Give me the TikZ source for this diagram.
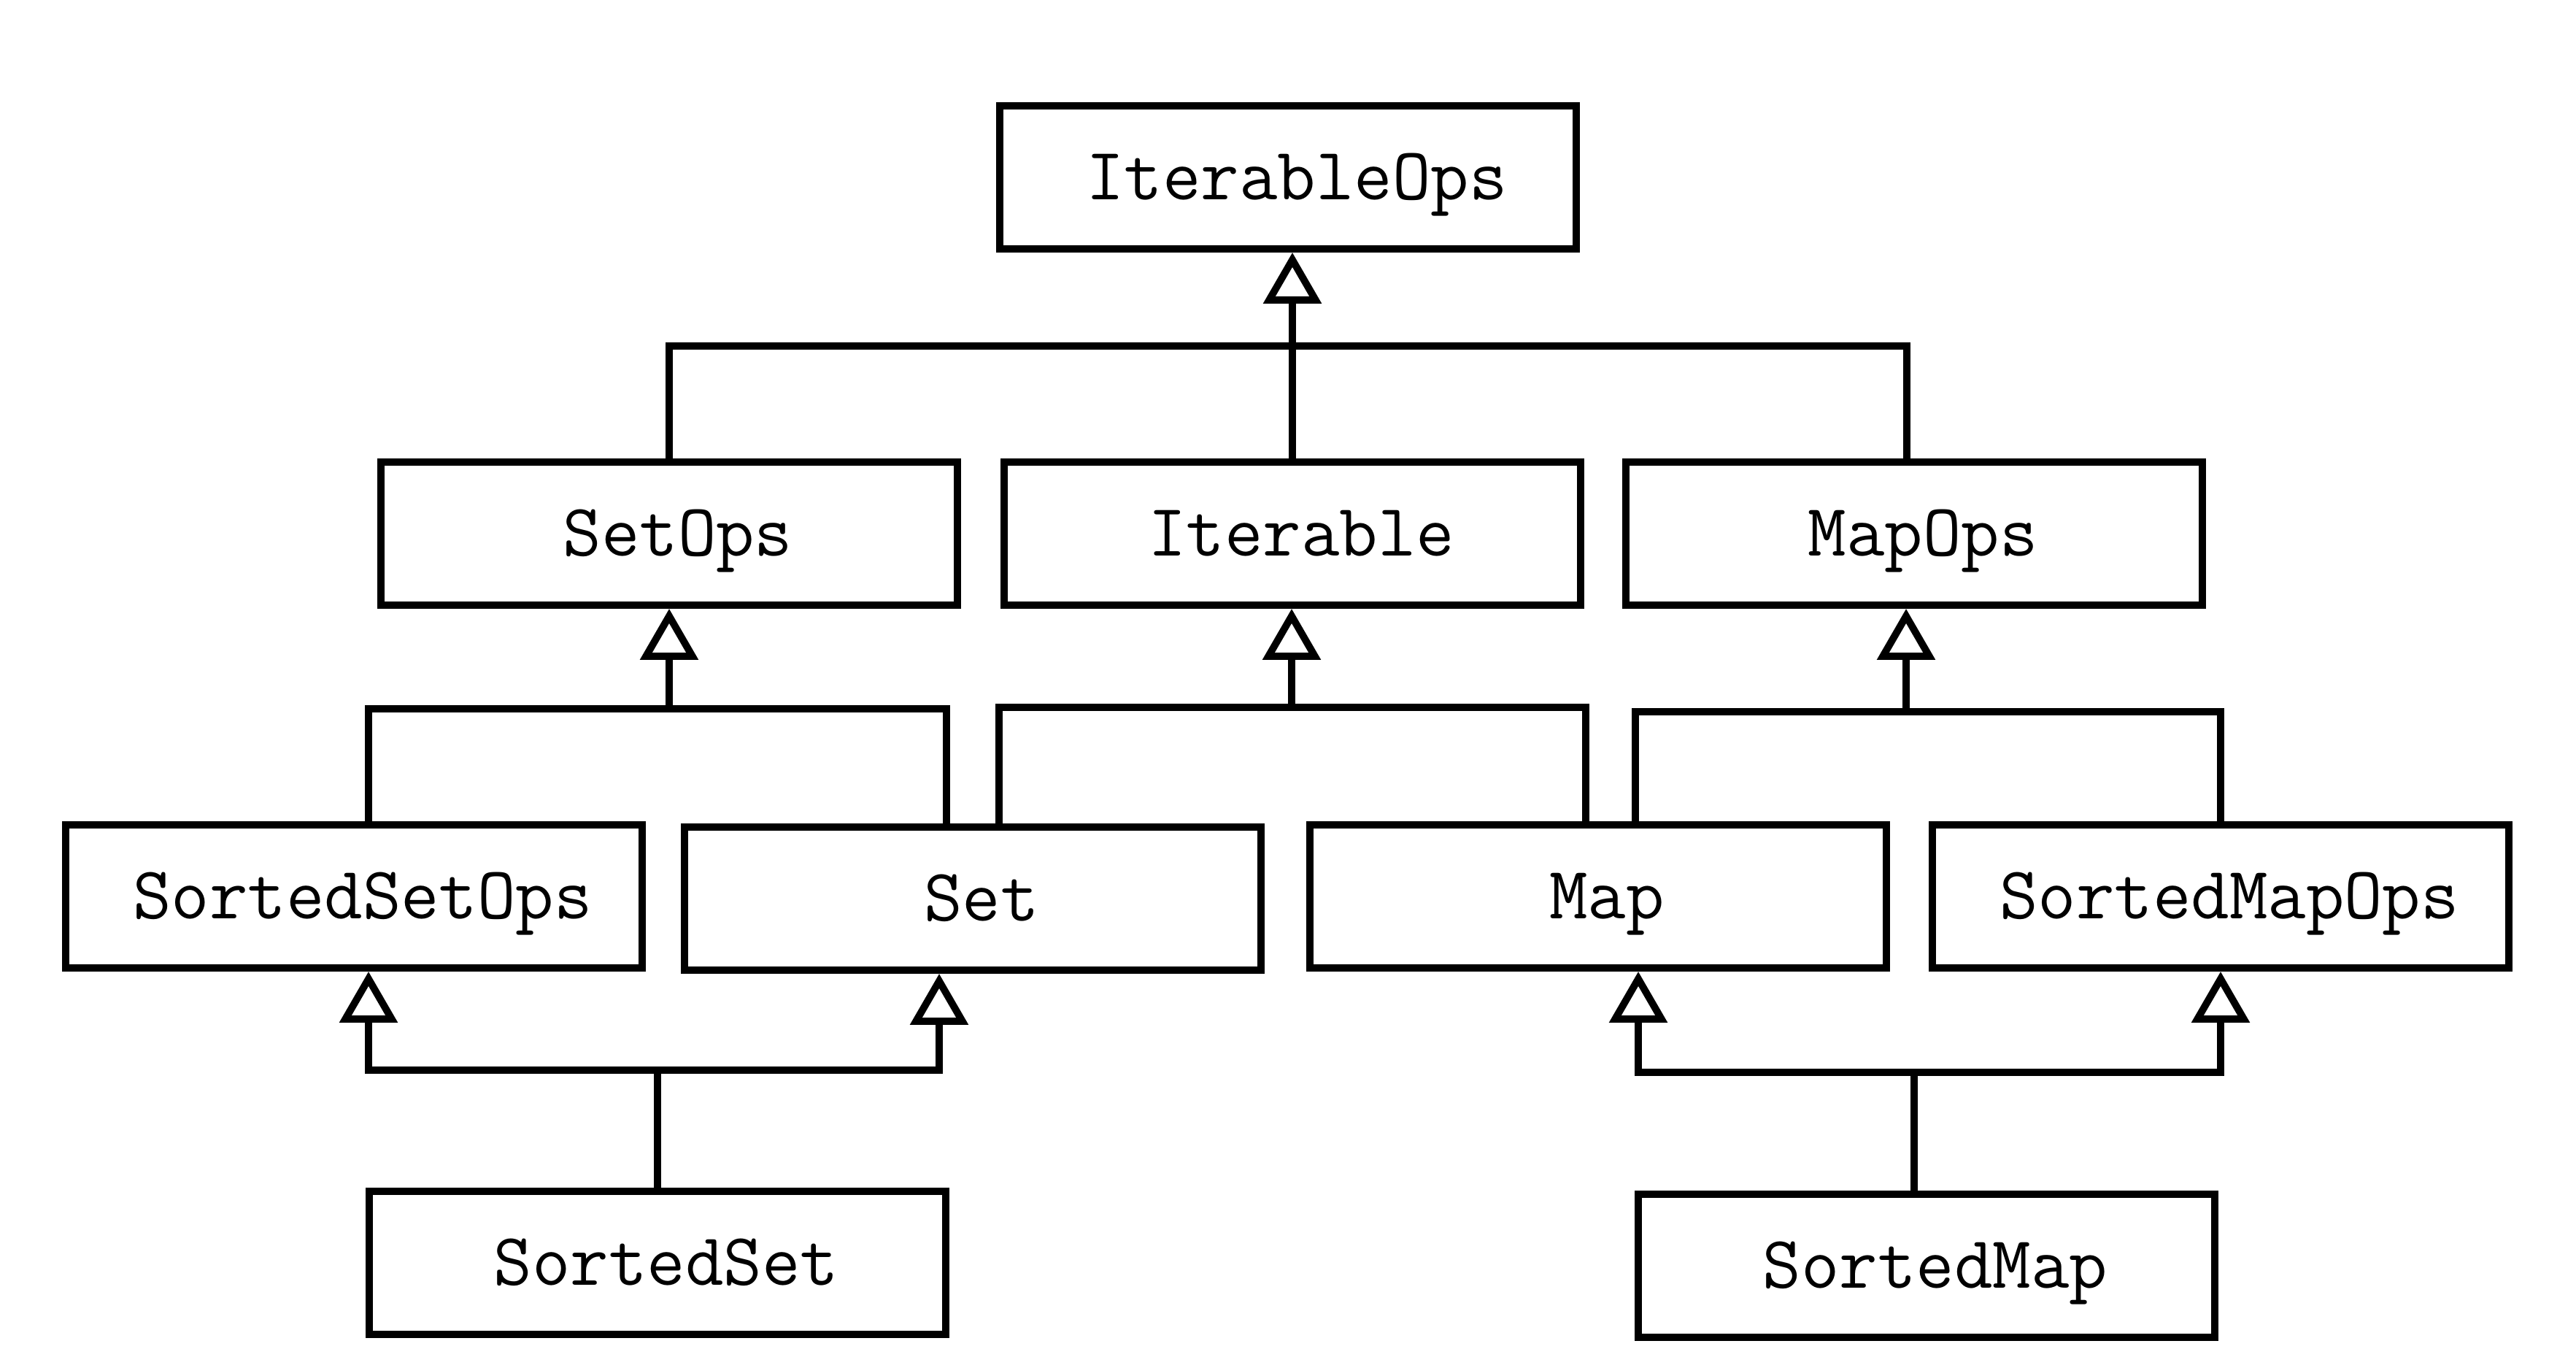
\documentclass[tikz,border=0pt]{standalone}
\usepackage{fontspec}
\usetikzlibrary{arrows.meta}
\begin{document}
\begin{tikzpicture}[font=\ttfamily\fontsize{29}{35}\selectfont, line join=miter, line width=2.8pt,
		>={Triangle[open,length=7mm,width=7.8mm,line width=2.8pt]}]
	\tikzset{cls/.style={draw, minimum width=7.9cm, minimum height=1.96cm, inner sep=0pt, text height=17.5pt, text depth=0pt,
			execute at begin node={\hspace*{2.4mm}}}}
	\useasboundingbox (0,0) rectangle (35.30,-18.48);
	% classes
	\node[cls] (IterableOps)  at (17.65,-2.43)  {IterableOps};
	\node[cls] (SetOps)       at (9.17,-7.31)   {SetOps};
	\node[cls] (Iterable)     at (17.71,-7.31)  {Iterable};
	\node[cls] (MapOps)       at (26.23,-7.31)  {MapOps};
	\node[cls] (SortedSetOps) at (4.85,-12.28)  {SortedSetOps};
	\node[cls] (Set)          at (13.33,-12.31) {Set};
	\node[cls] (Map)          at (21.90,-12.28) {Map};
	\node[cls] (SortedMapOps) at (30.43,-12.28) {SortedMapOps};
	\node[cls] (SortedSet)    at (9.01,-17.30)  {SortedSet};
	\node[cls] (SortedMap)    at (26.40,-17.34) {SortedMap};
	% junctions
	\coordinate (jIterableOps)  at (17.70,-4.74);
	\coordinate (jSetOps)       at (9.17,-9.71);
	\coordinate (jIterable)     at (17.70,-9.69);
	\coordinate (jMapOps)       at (26.12,-9.75);
	\coordinate (jSortedSet)    at (9.01,-14.66);
	\coordinate (jSortedMap)    at (26.23,-14.69);
	% top level
	\draw (SetOps.north) |- (jIterableOps) -| ([xshift=-1mm]MapOps.north);
	\draw[->] (Iterable.north) -- (Iterable.north |- IterableOps.south);
	% second level
	\draw ([xshift=2mm]SortedSetOps.north) |- (jSetOps) -| ([xshift=-3.6mm]Set.north);
	\draw[->] (jSetOps) -- (SetOps.south);
	\draw ([xshift=3.6mm]Set.north) |- (jIterable) -| ([xshift=-1.7mm]Map.north);
	\draw[->] (jIterable) -- (jIterable |- Iterable.south);
	\draw ([xshift=5.1mm]Map.north) |- (jMapOps) -| (SortedMapOps.north);
	\draw[->] (jMapOps) -- (jMapOps |- MapOps.south);
	% third level
	\draw (SortedSet.north) -- (jSortedSet);
	\draw[->] (jSortedSet) -| ([xshift=2mm]SortedSetOps.south);
	\draw[->] (jSortedSet) -| ([xshift=-4.6mm]Set.south);
	\draw ([xshift=-1.7mm]SortedMap.north) -- (jSortedMap);
	\draw[->] (jSortedMap) -| ([xshift=5.5mm]Map.south);
	\draw[->] (jSortedMap) -| (SortedMapOps.south);
\end{tikzpicture}
\end{document}
